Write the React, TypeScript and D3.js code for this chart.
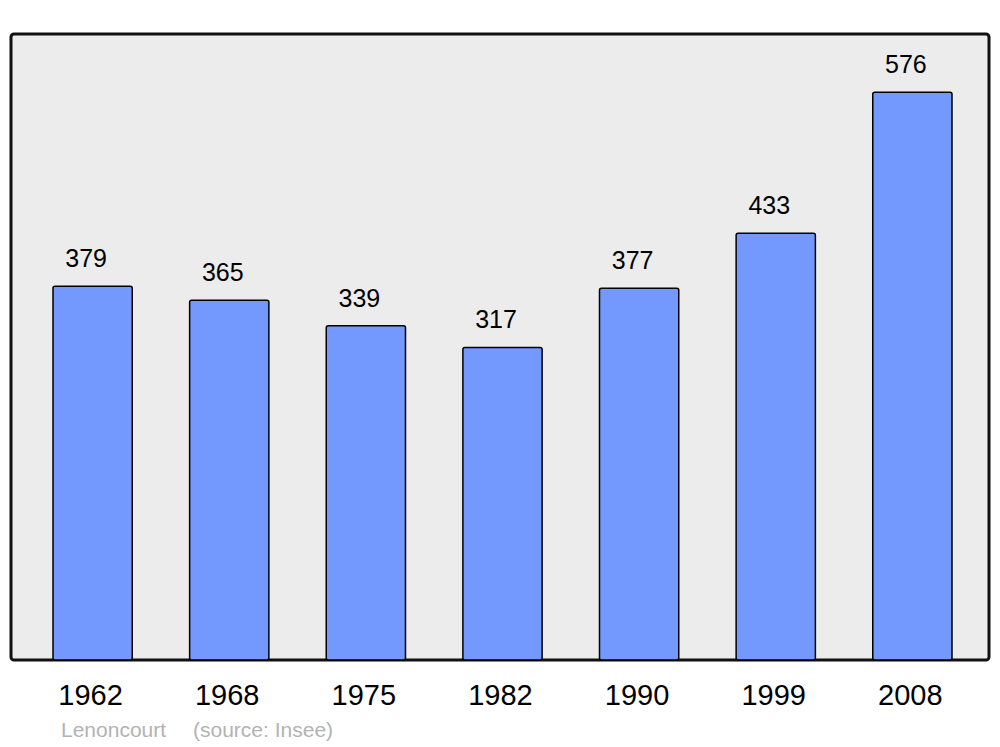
import * as d3 from "d3";

const years = ["1962", "1968", "1975", "1982", "1990", "1999", "2008"];
const population = [379, 365, 339, 317, 377, 433, 576];
const footerName = "Lenoncourt";
const footerSource = "(source: Insee)";

export default function App() {
  const width = 1000;
  const height = 747;

  // plot frame
  const frameLeft = 11;
  const frameRight = 989;
  const frameTop = 34;
  const frameBottom = 660;

  const x = d3.scaleBand<string>()
    .domain(years)
    .range([53, 952])
    .paddingInner(0.42)
    .paddingOuter(0);

  const y = d3.scaleLinear()
    .domain([0, 635])
    .range([frameBottom, frameTop]);

  const font = "'Liberation Sans', Arial, sans-serif";

  return (
    <svg
      width={width}
      height={height}
      style={{ position: "absolute", left: 0, top: 0, background: "#fff" }}
      fontFamily={font}
    >
      <rect
        x={frameLeft}
        y={frameTop}
        width={frameRight - frameLeft}
        height={frameBottom - frameTop}
        rx={3}
        fill="#ececec"
        stroke="#111"
        strokeWidth={3}
      />

      {years.map((yr, i) => {
        const v = population[i];
        const bx = x(yr) || 0;
        const cx = bx + x.bandwidth() / 2;
        return (
          <g key={yr}>
            <rect
              x={bx}
              y={y(v)}
              width={x.bandwidth()}
              height={y(0) - y(v)}
              rx={2}
              fill="#7399ff"
              stroke="#000"
              strokeWidth={1.5}
            />
            <text x={cx - 6.5} y={y(v) - 19} textAnchor="middle" fontSize={25} fill="#000">
              {v}
            </text>
            <text x={cx - 2} y={705} textAnchor="middle" fontSize={29} fill="#000">
              {yr}
            </text>
          </g>
        );
      })}

      <text x={61} y={737} fontSize={21} fill="#b3b3b3">{footerName}</text>
      <text x={193} y={737} fontSize={21} fill="#b3b3b3">{footerSource}</text>
    </svg>
  );
}
